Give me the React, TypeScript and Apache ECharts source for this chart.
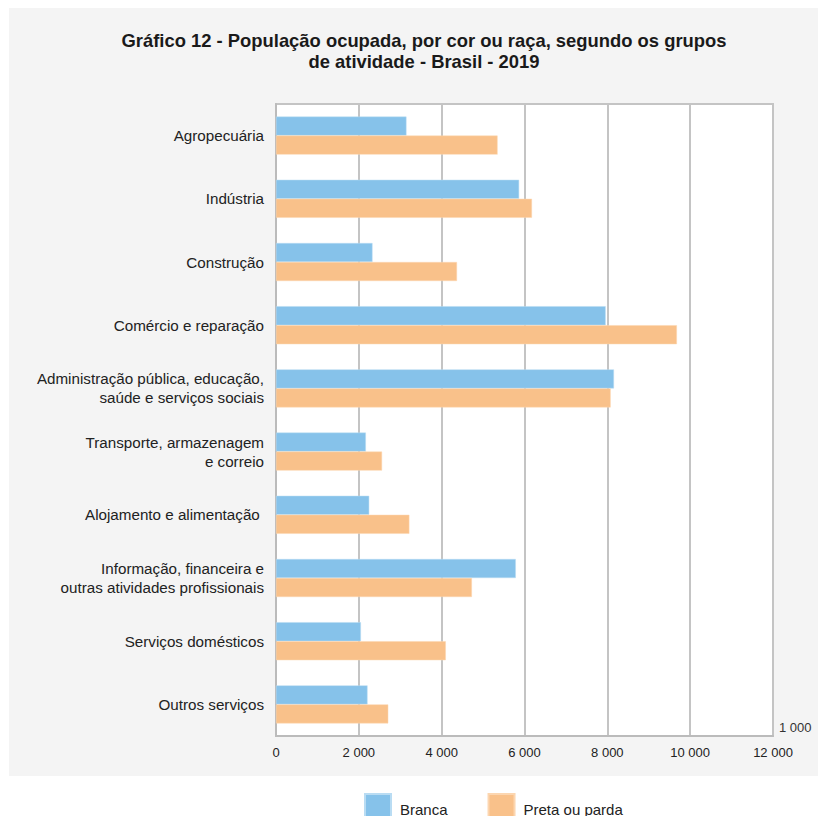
import React, { useEffect, useRef } from "react";
import * as echarts from "echarts";

const categories = [
  "Agropecuária",
  "Indústria",
  "Construção",
  "Comércio e reparação",
  "Administração pública, educação,\nsaúde e serviços sociais",
  "Transporte, armazenagem\ne correio",
  "Alojamento e alimentação ",
  "Informação, financeira e\noutras atividades profissionais",
  "Serviços domésticos",
  "Outros serviços",
];
const branca = [3150, 5870, 2330, 7960, 8160, 2170, 2250, 5790, 2050, 2210];
const pretaParda = [5350, 6180, 4370, 9680, 8080, 2560, 3220, 4730, 4100, 2710];
const seriesNames = ["Branca", "Preta ou parda"];
const xTicks = [0, 2000, 4000, 6000, 8000, 10000, 12000];
const titleLines = [
  "Gráfico 12 - População ocupada, por cor ou raça, segundo os grupos",
  "de atividade - Brasil - 2019",
];
const unitLabel = "1 000";

const fmt = (v: number) => {
  const s = String(Math.round(v));
  return s.replace(/\B(?=(\d{3})+(?!\d))/g, " ");
};

export default function App() {
  const ref = useRef<HTMLDivElement>(null);
  useEffect(() => {
    if (!ref.current) return;
    const chart = echarts.init(ref.current, undefined, { renderer: "svg" });
    const font = "'Liberation Sans', Arial, sans-serif";
    chart.setOption({
      animation: false,
      backgroundColor: "#ffffff",
      textStyle: { fontFamily: font },
      title: {
        text: titleLines.join("\n"),
        left: 419,
        textAlign: "center",
        top: 25,
        textStyle: {
          fontFamily: font,
          fontSize: 18.4,
          fontWeight: "bold",
          color: "#1a1a1a",
          lineHeight: 21,
        },
      },
      graphic: [
        {
          type: "rect",
          z: -10,
          zlevel: 0,
          silent: true,
          shape: { x: 9, y: 7, width: 809, height: 769 },
          style: { fill: "#F4F4F4" },
        },
        {
          type: "text",
          left: 779,
          top: 721,
          style: { text: unitLabel, fontSize: 13, fill: "#333", fontFamily: font },
        },
      ],
      legend: {
        data: seriesNames,
        left: 364,
        top: 793,
        padding: 0,
        itemWidth: 26,
        itemHeight: 31,
        itemGap: 40,
        icon: "rect",
        textStyle: { fontSize: 15, color: "#222", fontFamily: font, padding: [0, 0, 0, 4] },
      },
      grid: {
        left: 276,
        right: 53,
        top: 104,
        bottom: 88,
        show: true,
        backgroundColor: "#ffffff",
        borderColor: "#C4C4C4",
        borderWidth: 2,
        containLabel: false,
      },
      xAxis: {
        type: "value",
        min: xTicks[0],
        max: xTicks[xTicks.length - 1],
        interval: 2000,
        axisLine: { show: true, lineStyle: { color: "#BBBBBB", width: 2 } },
        axisTick: { show: false },
        splitLine: { show: true, lineStyle: { color: "#C4C4C4", width: 2 } },
        axisLabel: {
          formatter: (v: number) => fmt(v),
          fontSize: 13,
          color: "#222",
          margin: 10,
          fontFamily: font,
        },
      },
      yAxis: {
        type: "category",
        data: categories,
        inverse: true,
        axisLine: { show: true, lineStyle: { color: "#BBBBBB", width: 2 } },
        axisTick: { show: false },
        splitLine: { show: false },
        axisLabel: {
          fontSize: 15.2,
          color: "#222",
          margin: 12,
          lineHeight: 19,
          fontFamily: font,
        },
      },
      series: [
        {
          name: seriesNames[0],
          type: "bar",
          data: branca,
          barWidth: 19,
          barGap: "0%",
          itemStyle: { color: "#86C2EA", borderColor: "#B9DCF3", borderWidth: 0.5 },
        },
        {
          name: seriesNames[1],
          type: "bar",
          data: pretaParda,
          barWidth: 19,
          barGap: "0%",
          itemStyle: { color: "#F9C18A", borderColor: "#FCD6B0", borderWidth: 0.5 },
        },
      ],
    });
    return () => chart.dispose();
  }, []);
  return <div ref={ref} style={{ width: 826, height: 824, margin: -8 }} />;
}
